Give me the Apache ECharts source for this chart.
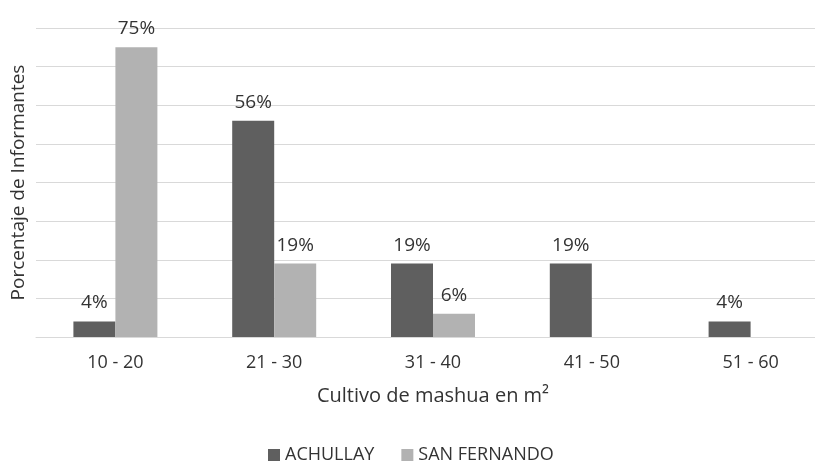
<!DOCTYPE html>
<html>
<head>
<meta charset="utf-8">
<script src="https://cdn.jsdelivr.net/npm/echarts@6/dist/echarts.min.js"></script>
<style>
  html, body { margin: 0; padding: 0; background: #ffffff; overflow: hidden; }
  /* the plot runs past the right edge of the page, so the canvas is wider than the window */
  #chart { width: 830px; height: 464px; }
</style>
</head>
<body>
<div id="chart"></div>
<script>
// Superficie cultivada de mashua por rango (m²)
const categories = ['10 - 20', '21 - 30', '31 - 40', '41 - 50', '51 - 60'];
const achullay = [4, 56, 19, 19, 4];
const sanFernando = [75, 19, 6, null, null];
const seriesNames = ['ACHULLAY', 'SAN FERNANDO'];

const FONT = '"Open Sans", "Noto Sans", sans-serif';
const TEXT = '#333333';

const chart = echarts.init(document.getElementById('chart'), null, { renderer: 'canvas' });

function barSeries(name, data, color) {
  return {
    name: name,
    type: 'bar',
    data: data,
    barWidth: 42,
    barGap: '0%',
    itemStyle: { color: color },
    label: {
      show: true,
      position: 'top',
      distance: 9,
      color: TEXT,
      fontFamily: FONT,
      fontSize: 19,
      formatter: p => (p.value == null ? '' : p.value + '%')
    }
  };
}

chart.setOption({
  animation: false,
  backgroundColor: '#ffffff',
  grid: { left: 36, top: 28, width: 794, height: 309, containLabel: false },
  legend: {
    data: seriesNames,
    left: 268,
    top: 445,
    padding: 0,
    itemWidth: 12,
    itemHeight: 12,
    itemGap: 27,
    icon: 'rect',
    textStyle: { color: TEXT, fontFamily: FONT, fontSize: 18, lineHeight: 20 }
  },
  xAxis: {
    type: 'category',
    data: categories,
    axisTick: { show: false },
    axisLine: { lineStyle: { color: '#d9d9d9', width: 1 } },
    axisLabel: { color: TEXT, fontFamily: FONT, fontSize: 18, margin: 17 },
    name: 'Cultivo de mashua en m²',
    nameLocation: 'middle',
    nameGap: 49,
    nameTextStyle: { color: TEXT, fontFamily: FONT, fontSize: 20 }
  },
  yAxis: {
    type: 'value',
    min: 0,
    max: 80,
    interval: 10,
    axisLabel: { show: false },
    axisLine: { show: false },
    axisTick: { show: false },
    splitLine: { lineStyle: { color: '#d9d9d9', width: 1 } },
    name: 'Porcentaje de Informantes',
    nameLocation: 'middle',
    nameGap: 8,
    nameTextStyle: { color: TEXT, fontFamily: FONT, fontSize: 19 }
  },
  series: [
    barSeries(seriesNames[0], achullay, '#5f5f5f'),
    barSeries(seriesNames[1], sanFernando, '#b2b2b2')
  ]
});
</script>
</body>
</html>
